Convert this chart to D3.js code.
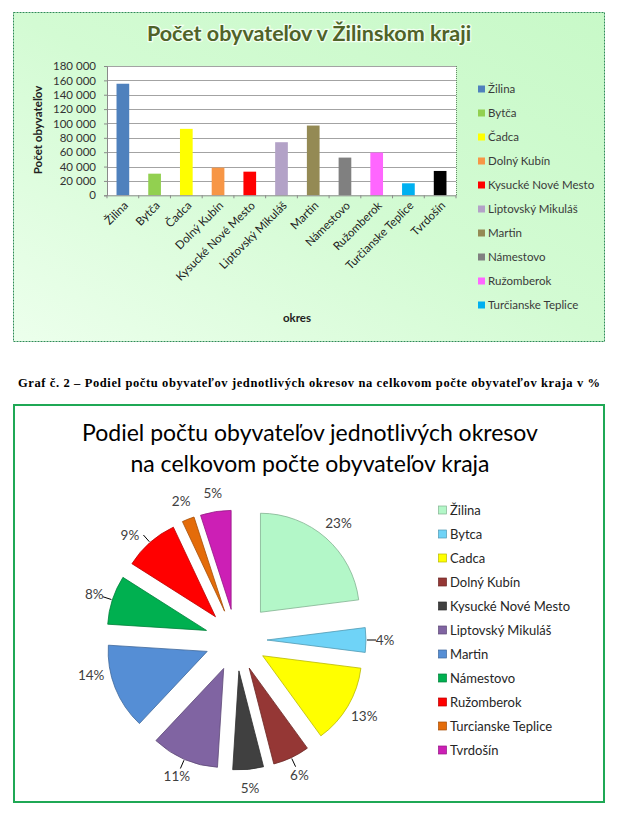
<!DOCTYPE html>
<html><head><meta charset="utf-8">
<script src="https://cdn.jsdelivr.net/npm/d3@7"></script>
<style>body{margin:0;background:#fff}svg{display:block}text{font-family:Lato,"Open Sans",sans-serif}</style>
</head><body><svg id="c" width="621" height="818"></svg>
<script>
// ---------- DATA ----------
const categories = ["Žilina","Bytča","Čadca","Dolný Kubín","Kysucké Nové Mesto","Liptovský Mikuláš","Martin","Námestovo","Ružomberok","Turčianske Teplice","Tvrdošín"];
const population = [155300,30100,92500,38500,32900,73900,97100,52500,59500,16700,33900];
const yTickValues = [0,20000,40000,60000,80000,100000,120000,140000,160000,180000];
const barColors = ["#4f81bd","#92d050","#ffff00","#f79646","#ff0000","#b3a2c7","#948a54","#808080","#ff66ff","#00b0f0","#000000"];
const barLegendItems = categories.slice(0, 10);

const pieCategories = ["Žilina","Bytca","Cadca","Dolný Kubín","Kysucké Nové Mesto","Liptovský Mikuláš","Martin","Námestovo","Ružomberok","Turcianske Teplice","Tvrdošín"];
const pieShares = [23,4,13,6,5,11,14,8,9,2,5];
const pieColors = ["#b3f7c8","#6fd3f7","#ffff00","#953735","#404040","#8064a2","#558ed5","#00b050","#ff0000","#e46c0a","#cc1fb5"];

const captionText = "Graf č. 2 – Podiel počtu obyvateľov jednotlivých okresov na celkovom počte obyvateľov kraja v %";

// ---------- DRAW ----------
const svg = d3.select("#c");
const defs = svg.append("defs");
const grad = defs.append("linearGradient").attr("id","bg")
  .attr("x1","0").attr("y1","1").attr("x2","1").attr("y2","0");
grad.append("stop").attr("offset","0").attr("stop-color","#ecffec");
grad.append("stop").attr("offset","0.5").attr("stop-color","#d3fbd3");
grad.append("stop").attr("offset","1").attr("stop-color","#c8f9c8");

// Top chart frame
svg.append("rect").attr("x",13.5).attr("y",12.5).attr("width",591).attr("height",329)
  .attr("fill","url(#bg)").attr("stroke","#2e8b57").attr("stroke-width",1).attr("stroke-dasharray","2,1");

svg.append("text").attr("x",309).attr("y",41).attr("text-anchor","middle")
  .attr("font-size",21.5).attr("font-weight","bold").attr("fill","#4f6228")
  .attr("stroke","#f2fff2").attr("stroke-width",2.5).attr("paint-order","stroke")
  .text("Počet obyvateľov v Žilinskom kraji");

const plot = {x0:107, x1:456, y0:66, y1:195.3};
const x = d3.scaleBand().domain(categories).range([plot.x0, plot.x1]).paddingInner(0.6).paddingOuter(0.3);
const y = d3.scaleLinear().domain([0,180000]).range([plot.y1, plot.y0]);

svg.append("rect").attr("x",plot.x0).attr("y",plot.y0).attr("width",plot.x1-plot.x0).attr("height",plot.y1-plot.y0)
  .attr("fill","#ffffff");
svg.append("line").attr("x1",plot.x1+0.5).attr("x2",plot.x1+0.5).attr("y1",plot.y0).attr("y2",plot.y1)
  .attr("stroke","#6a8a6a").attr("stroke-dasharray","1,1");

// gridlines
svg.append("g").selectAll("line").data(yTickValues.filter(d=>d>0)).join("line")
  .attr("x1",plot.x0).attr("x2",plot.x1)
  .attr("y1",d=>Math.round(y(d))+0.5).attr("y2",d=>Math.round(y(d))+0.5)
  .attr("stroke","#a3a3a3").attr("stroke-width",1);

// bars
svg.append("g").selectAll("rect").data(population).join("rect")
  .attr("x",(d,i)=>x(categories[i])).attr("width",x.bandwidth())
  .attr("y",d=>y(d)).attr("height",d=>y(0)-y(d))
  .attr("fill",(d,i)=>barColors[i]);

// y axis
const yAxis = svg.append("g").attr("transform",`translate(${plot.x0},0)`)
  .call(d3.axisLeft(y).tickValues(yTickValues).tickSize(3).tickPadding(8)
    .tickFormat(d=>d3.format(",")(d).replace(/,/g," ")));
yAxis.select(".domain").attr("stroke","#8a8a8a");
yAxis.selectAll(".tick line").attr("stroke","#8a8a8a");
yAxis.selectAll("text").attr("font-size",11.5).attr("fill","#333").style("font-family","Lato");

// x axis
const xAxis = svg.append("g").attr("transform",`translate(0,${plot.y1})`)
  .call(d3.axisBottom(x).tickSize(0).tickSizeOuter(0));
xAxis.select(".domain").attr("stroke","#8a8a8a");
xAxis.selectAll("text").attr("font-size",11.5).attr("fill","#222").style("font-family","Lato")
  .attr("text-anchor","end").attr("x",0).attr("y",0).attr("dy",0)
  .attr("transform","translate(6,11) rotate(-45)");
// category boundary ticks
svg.append("g").selectAll("line").data(d3.range(categories.length+1)).join("line")
  .attr("x1",i=>plot.x0 + i*x.step()).attr("x2",i=>plot.x0 + i*x.step())
  .attr("y1",plot.y1).attr("y2",plot.y1+3).attr("stroke","#8a8a8a");

// axis titles
svg.append("text").attr("transform","translate(42,130) rotate(-90)").attr("text-anchor","middle")
  .attr("font-size",11.5).attr("font-weight","bold").attr("fill","#222").text("Počet obyvateľov");
svg.append("text").attr("x",297).attr("y",322).attr("text-anchor","middle")
  .attr("font-size",11.5).attr("font-weight","bold").attr("fill","#222").text("okres");

// bar legend
const bl = svg.append("g").selectAll("g").data(barLegendItems).join("g")
  .attr("transform",(d,i)=>`translate(478,${89+i*24})`);
bl.append("rect").attr("x",0).attr("y",-3.5).attr("width",7).attr("height",7)
  .attr("fill",(d,i)=>barColors[i]);
bl.append("text").attr("x",10).attr("y",0).attr("dy","0.35em").attr("font-size",11.5)
  .attr("fill","#3a3a3a").text(d=>d);

// caption
svg.append("text").attr("x",18).attr("y",387)
  .style("font-family","'Liberation Serif','Times New Roman',serif")
  .attr("font-size",12.5).attr("font-weight","bold").attr("fill","#000")
  .attr("textLength",582).attr("lengthAdjust","spacing").text(captionText);

// bottom frame
svg.append("rect").attr("x",14).attr("y",405).attr("width",590).attr("height",397)
  .attr("fill","#fff").attr("stroke","#1fa855").attr("stroke-width",2);

svg.append("text").attr("x",310).attr("y",441).attr("text-anchor","middle").attr("font-size",23)
  .attr("fill","#000").text("Podiel počtu obyvateľov jednotlivých okresov");
svg.append("text").attr("x",310).attr("y",472).attr("text-anchor","middle").attr("font-size",23)
  .attr("fill","#000").text("na celkovom počte obyvateľov kraja");

// pie
const cx = 236, cy = 640, R = 99;
const arcs = d3.pie().sort(null).value(d=>d)(pieShares);
const arcGen = d3.arc().innerRadius(0).outerRadius(R);
const explode = i => i===0 ? 37 : 31;
const mid = a => (a.startAngle + a.endAngle)/2;
const pieG = svg.append("g").attr("transform",`translate(${cx},${cy})`);
pieG.selectAll("path").data(arcs).join("path")
  .attr("transform",(a,i)=>`translate(${explode(i)*Math.sin(mid(a))},${-explode(i)*Math.cos(mid(a))})`)
  .attr("d",arcGen)
  .attr("fill",(a,i)=>pieColors[i])
  .attr("stroke",(a,i)=>d3.color(pieColors[i]).darker(0.9))
  .attr("stroke-width",0.8);

const labelNudge = {6: 8*Math.PI/180, 8: -4*Math.PI/180};
const labelAngle = (a,i) => mid(a) + (labelNudge[i]||0);
// leader lines
const leaders = [1,3,5,7,8];
pieG.selectAll("line.leader").data(arcs.filter((a,i)=>leaders.includes(i))).join("line")
  .attr("class","leader")
  .attr("x1",a=>(31+R+1)*Math.sin(mid(a))).attr("y1",a=>-(31+R+1)*Math.cos(mid(a)))
  .attr("x2",a=>(31+R+10)*Math.sin(mid(a))).attr("y2",a=>-(31+R+10)*Math.cos(mid(a)))
  .attr("stroke","#000").attr("stroke-width",1);
pieG.selectAll("text").data(arcs).join("text")
  .attr("x",(a,i)=>(explode(i)+R+19)*Math.sin(labelAngle(a,i)))
  .attr("y",(a,i)=>-(explode(i)+R+19)*Math.cos(labelAngle(a,i)))
  .attr("text-anchor","middle").attr("dy","0.35em").attr("font-size",13.5).attr("fill","#404040")
  .text((a,i)=>pieShares[i]+"%");

// pie legend
const pl = svg.append("g").selectAll("g").data(pieCategories).join("g")
  .attr("transform",(d,i)=>`translate(438,${510+i*24})`);
pl.append("rect").attr("x",0.5).attr("y",-4).attr("width",8).attr("height",8)
  .attr("fill",(d,i)=>pieColors[i]).attr("stroke",(d,i)=>d3.color(pieColors[i]).darker(0.9)).attr("stroke-width",0.7);
pl.append("text").attr("x",12).attr("y",0).attr("dy","0.36em").attr("font-size",13)
  .attr("fill","#262626").text(d=>d);
</script></body></html>
